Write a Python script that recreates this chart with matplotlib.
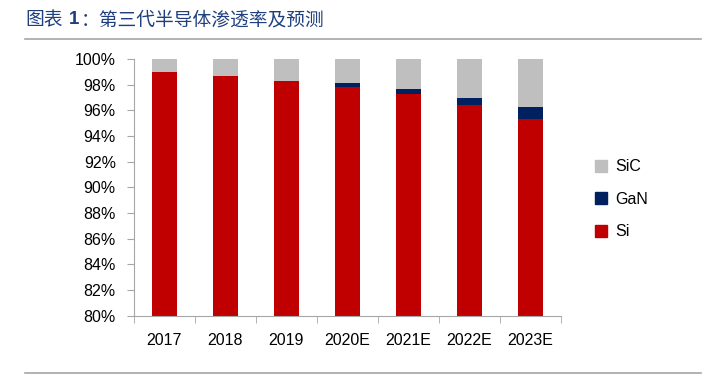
import matplotlib
matplotlib.use("Agg")
import matplotlib.pyplot as plt
import numpy as np
from matplotlib.patches import Patch

plt.rcParams["font.family"] = ["Liberation Sans", "Noto Sans CJK SC", "DejaVu Sans"]

years = ["2017", "2018", "2019", "2020E", "2021E", "2022E", "2023E"]
si = [99.0, 98.7, 98.3, 97.8, 97.3, 96.4, 95.3]
gan = [0.0, 0.0, 0.0, 0.3, 0.35, 0.6, 0.95]
sic = [100 - a - b for a, b in zip(si, gan)]

c_si = "#C00000"
c_gan = "#002060"
c_sic = "#BFBFBF"

fig = plt.figure(figsize=(7.12, 3.76), dpi=100)
ax = fig.add_axes([0.188, 0.160, 0.600, 0.683])

x = np.arange(len(years))
w = 0.4
ax.bar(x, si, w, color=c_si, label="Si")
ax.bar(x, gan, w, bottom=si, color=c_gan, label="GaN")
ax.bar(x, sic, w, bottom=np.array(si) + np.array(gan), color=c_sic, label="SiC")

ax.set_xlim(-0.5, len(years) - 0.5)
ax.set_ylim(80, 100)
ax.set_yticks(np.arange(80, 101, 2))
ax.set_yticklabels([f"{v}%" for v in range(80, 101, 2)], fontsize=11.5)
ax.set_xticks(x)
ax.set_xticklabels(years, fontsize=11.5)
ax.tick_params(axis="x", length=0, pad=12)
ax.set_xticks(np.arange(-0.5, len(years), 1), minor=True)
ax.tick_params(axis="x", which="minor", length=5, color="#A6A6A6", direction="out")
ax.tick_params(axis="y", length=5, color="#A6A6A6", direction="out", pad=8)

for s in ["top", "right"]:
    ax.spines[s].set_visible(False)
for s in ["left", "bottom"]:
    ax.spines[s].set_color("#A6A6A6")

handles = [Patch(color=c_sic, label="SiC"), Patch(color=c_gan, label="GaN"), Patch(color=c_si, label="Si")]
fig.legend(handles=handles, loc="center left", bbox_to_anchor=(0.815, 0.47), frameon=False,
           fontsize=11.5, handlelength=0.8, handleheight=0.8, labelspacing=1.1, handletextpad=0.5)

fig.text(0.036, 0.948, "图表", fontsize=13.5, color="#1F3F7F",
         va="center", ha="left", family=["Noto Sans CJK SC", "DejaVu Sans"])
fig.text(0.036 + 0.061, 0.948, "1", fontsize=13.5, color="#1F3F7F", weight="bold",
         va="center", ha="left", family=["Liberation Sans"])
fig.text(0.036 + 0.078, 0.948, "：第三代半导体渗透率及预测", fontsize=13.5, color="#1F3F7F",
         va="center", ha="left", family=["Noto Sans CJK SC", "DejaVu Sans"])
fig.add_artist(plt.Line2D([0.035, 0.985], [0.897, 0.897], color="#A6A6A6", lw=1.2))
fig.add_artist(plt.Line2D([0.035, 0.985], [0.008, 0.008], color="#A6A6A6", lw=1.2))

fig.savefig("out.png", dpi=100)
